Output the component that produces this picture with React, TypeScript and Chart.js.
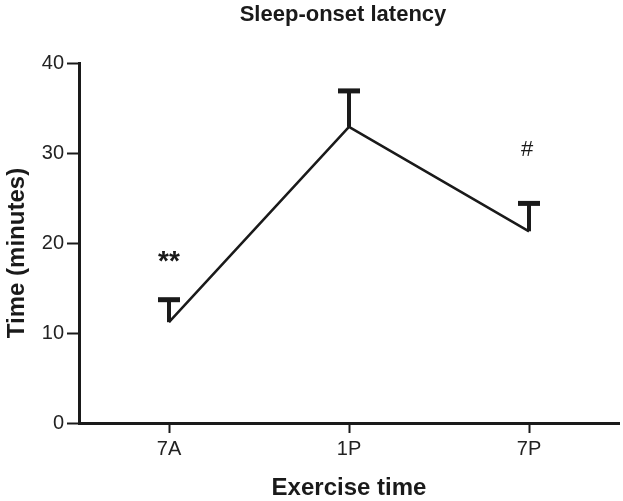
import React, { useEffect, useRef } from "react";
import { Chart, registerables } from "chart.js";

Chart.register(...registerables);

const categories = ["7A", "1P", "7P"];
const meanValues = [11.2, 32.9, 21.3];
const errorValues = [2.5, 4.0, 3.1];
const yTicks = [0, 10, 20, 30, 40];
const annotations = ["**", "", "#"];
const annotationValues = [17.9, 0, 30.3];

const FONT = "Liberation Sans, Arial, Helvetica, sans-serif";

const overlayPlugin = {
  id: "overlay",
  afterDatasetsDraw(chart: any) {
    const { ctx, scales, chartArea } = chart;
    const x = scales.x;
    const y = scales.y;
    ctx.save();
    // error bars (upper only)
    ctx.strokeStyle = "#1a1a1a";
    ctx.lineCap = "butt";
    meanValues.forEach((m, i) => {
      const px = x.getPixelForValue(i);
      const py = y.getPixelForValue(m);
      const pt = y.getPixelForValue(m + errorValues[i]);
      ctx.lineWidth = 4;
      ctx.beginPath();
      ctx.moveTo(px, py);
      ctx.lineTo(px, pt);
      ctx.stroke();
      ctx.lineWidth = 5;
      ctx.beginPath();
      ctx.moveTo(px - 11, pt);
      ctx.lineTo(px + 11, pt);
      ctx.stroke();
    });
    // annotations
    ctx.fillStyle = "#1a1a1a";
    ctx.textAlign = "center";
    ctx.textBaseline = "middle";
    annotations.forEach((a, i) => {
      if (!a) return;
      const px = x.getPixelForValue(i);
      const py = y.getPixelForValue(annotationValues[i]);
      ctx.font = a === "#" ? `22px ${FONT}` : `bold 28px ${FONT}`;
      ctx.fillText(a, a === "#" ? px - 2 : px, py);
    });
    // titles
    const cx = (chartArea.left + chartArea.right) / 2;
    ctx.font = `bold 22px ${FONT}`;
    ctx.fillText("Sleep-onset latency", cx - 6, 15);
    ctx.font = `bold 24px ${FONT}`;
    ctx.fillText("Exercise time", cx, 488);
    ctx.translate(17, (chartArea.top + chartArea.bottom) / 2 + 10);
    ctx.rotate(-Math.PI / 2);
    ctx.fillText("Time (minutes)", 0, 0);
    ctx.restore();
  },
};

export default function App() {
  const ref = useRef<HTMLCanvasElement>(null);
  useEffect(() => {
    const chart = new Chart(ref.current as HTMLCanvasElement, {
      type: "line",
      data: {
        labels: categories,
        datasets: [
          {
            data: meanValues,
            borderColor: "#1a1a1a",
            borderWidth: 2.5,
            pointRadius: 0,
            tension: 0,
            fill: false,
          },
        ],
      },
      options: {
        animation: false,
        responsive: true,
        maintainAspectRatio: false,
        layout: { padding: { top: 63, right: 4, left: 0, bottom: 0 } },
        plugins: {
          legend: { display: false },
          title: { display: false },
          tooltip: { enabled: false },
        },
        scales: {
          x: {
            type: "category",
            offset: true,
            grid: {
              display: true,
              drawOnChartArea: false,
              tickLength: 10,
              tickWidth: 2,
              tickColor: "#1a1a1a",
              offset: false,
            },
            border: { display: true, color: "#1a1a1a", width: 3 },
            ticks: {
              color: "#222",
              font: { family: FONT, size: 20 },
              padding: 4,
            },
            afterFit(scale: any) {
              scale.height = 78;
            },
          },
          y: {
            min: 0,
            max: 40,
            afterBuildTicks(scale: any) {
              scale.ticks = yTicks.map((v) => ({ value: v }));
            },
            grid: {
              display: true,
              drawOnChartArea: false,
              tickLength: 12,
              tickWidth: 2,
              tickColor: "#1a1a1a",
            },
            border: { display: true, color: "#1a1a1a", width: 3 },
            ticks: {
              color: "#222",
              font: { family: FONT, size: 20 },
              padding: 3,
            },
            afterFit(scale: any) {
              scale.width = 79;
            },
          },
        },
      },
      plugins: [overlayPlugin],
    });
    return () => chart.destroy();
  }, []);
  return (
    <div style={{ position: "fixed", left: 0, top: 0, width: 623, height: 501, background: "#fff" }}>
      <canvas ref={ref} />
    </div>
  );
}
